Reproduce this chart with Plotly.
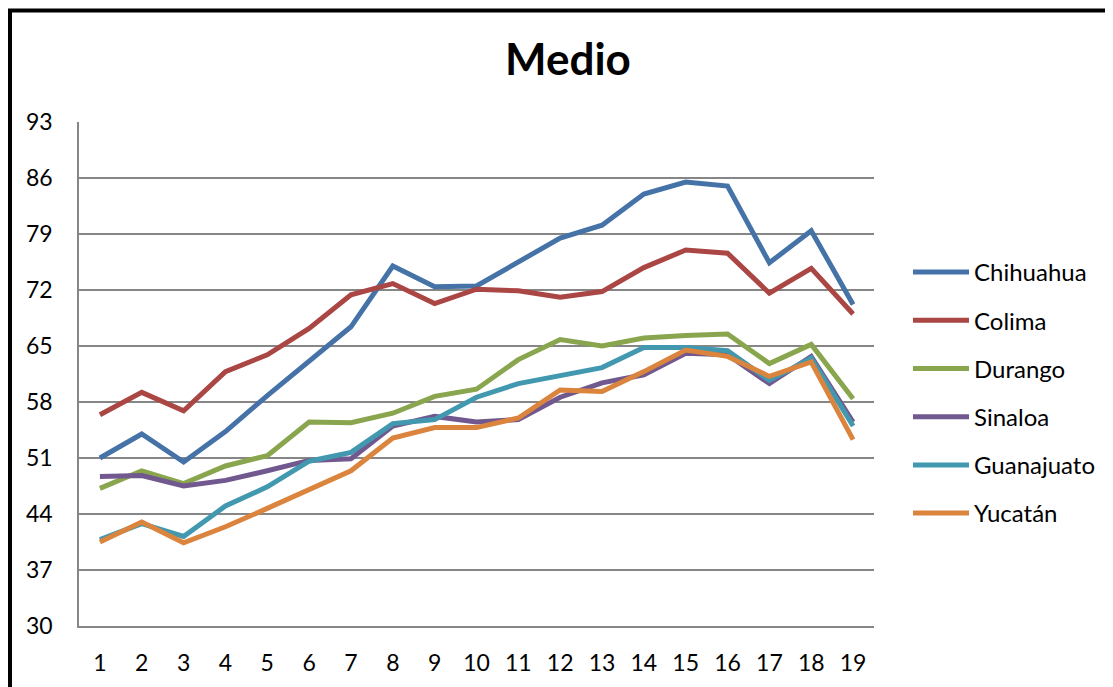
import plotly.graph_objects as go

# índice de los periodos (eje x)
periodos = list(range(1, 19 + 1))

chihuahua = [51.0, 54.0, 50.5, 54.3, 58.8, 63.2, 67.4, 75.0, 72.4, 72.5,
             75.5, 78.5, 80.1, 84.0, 85.5, 85.0, 75.4, 79.4, 70.2]
colima = [56.4, 59.2, 56.9, 61.8, 63.9, 67.2, 71.4, 72.8, 70.3, 72.1,
          71.9, 71.1, 71.8, 74.8, 77.0, 76.6, 71.6, 74.7, 69.0]
durango = [47.2, 49.4, 47.8, 50.0, 51.3, 55.5, 55.4, 56.6, 58.7, 59.6,
           63.3, 65.8, 65.0, 66.0, 66.3, 66.5, 62.8, 65.2, 58.4]
sinaloa = [48.7, 48.8, 47.5, 48.2, 49.4, 50.7, 50.9, 55.0, 56.2, 55.5,
           55.8, 58.6, 60.4, 61.4, 64.1, 63.9, 60.3, 63.7, 55.5]
guanajuato = [40.8, 42.8, 41.2, 45.0, 47.4, 50.6, 51.7, 55.3, 55.8, 58.6,
              60.3, 61.3, 62.3, 64.8, 64.8, 64.4, 60.7, 63.5, 55.0]
yucatan = [40.5, 43.0, 40.4, 42.4, 44.7, 47.1, 49.4, 53.5, 54.8, 54.8,
           56.0, 59.5, 59.3, 61.8, 64.5, 63.7, 61.2, 63.0, 53.3]

estados = ['Chihuahua', 'Colima', 'Durango', 'Sinaloa', 'Guanajuato', 'Yucatán']
series = [chihuahua, colima, durango, sinaloa, guanajuato, yucatan]
colores = ['#4572A7', '#AA4643', '#89A54E', '#71588F', '#4198AF', '#DB843D']

y_ticks = list(range(30, 94, 7))

FONT = 'Lato, "Open Sans", sans-serif'

# la página html añade 8px de margen al body: la figura se reduce en la misma medida
W, H = 1105, 679

fig = go.Figure()

for nombre, valores, color in zip(estados, series, colores):
    fig.add_trace(go.Scatter(
        x=periodos,
        y=valores,
        mode='lines',
        name=nombre,
        legendgroup=nombre,
        line=dict(color=color, width=5),
        hoverinfo='skip'
    ))

fig.update_layout(
    width=W,
    height=H,
    paper_bgcolor='white',
    plot_bgcolor='white',
    margin=dict(l=71, r=239, t=114, b=61),
    font=dict(family=FONT, color='black'),
    title=dict(
        text='<b>Medio</b>',
        font=dict(size=44, family=FONT, color='black'),
        x=560 / W, xanchor='center', xref='container',
        y=1 - 52 / H, yanchor='middle', yref='container'
    ),
    legend=dict(
        x=(900 - 71) / 795, xanchor='left',
        y=(626 - 250) / 504, yanchor='top',
        font=dict(size=24, family=FONT),
        tracegroupgap=14,
        itemwidth=56,
        bgcolor='rgba(0,0,0,0)'
    ),
    showlegend=True
)

fig.update_xaxes(
    range=[0.5, 19.5],
    tickmode='array',
    tickvals=periodos,
    ticktext=[str(p) for p in periodos],
    tickfont=dict(size=23, family=FONT),
    showgrid=False,
    zeroline=False,
    showline=True,
    linecolor='#868686',
    linewidth=1.5,
    ticks='',
    ticklabelstandoff=16
)

fig.update_yaxes(
    range=[30, 93],
    tickmode='array',
    tickvals=y_ticks,
    tickfont=dict(size=23, family=FONT),
    showgrid=True,
    gridcolor='#868686',
    gridwidth=1.5,
    zeroline=False,
    showline=True,
    linecolor='#868686',
    linewidth=1.5,
    ticks='',
    ticklabelstandoff=20
)

# marco negro del gráfico (borde recortado a la derecha y abajo)
fig.add_shape(
    type='rect', xref='paper', yref='paper',
    x0=(2 - 71) / 795, x1=(1140 - 71) / 795,
    y0=(618 - 720) / 504, y1=(618 - 2.5) / 504,
    line=dict(color='black', width=4),
    fillcolor='rgba(0,0,0,0)',
    layer='above'
)

fig.write_html("out.html")
